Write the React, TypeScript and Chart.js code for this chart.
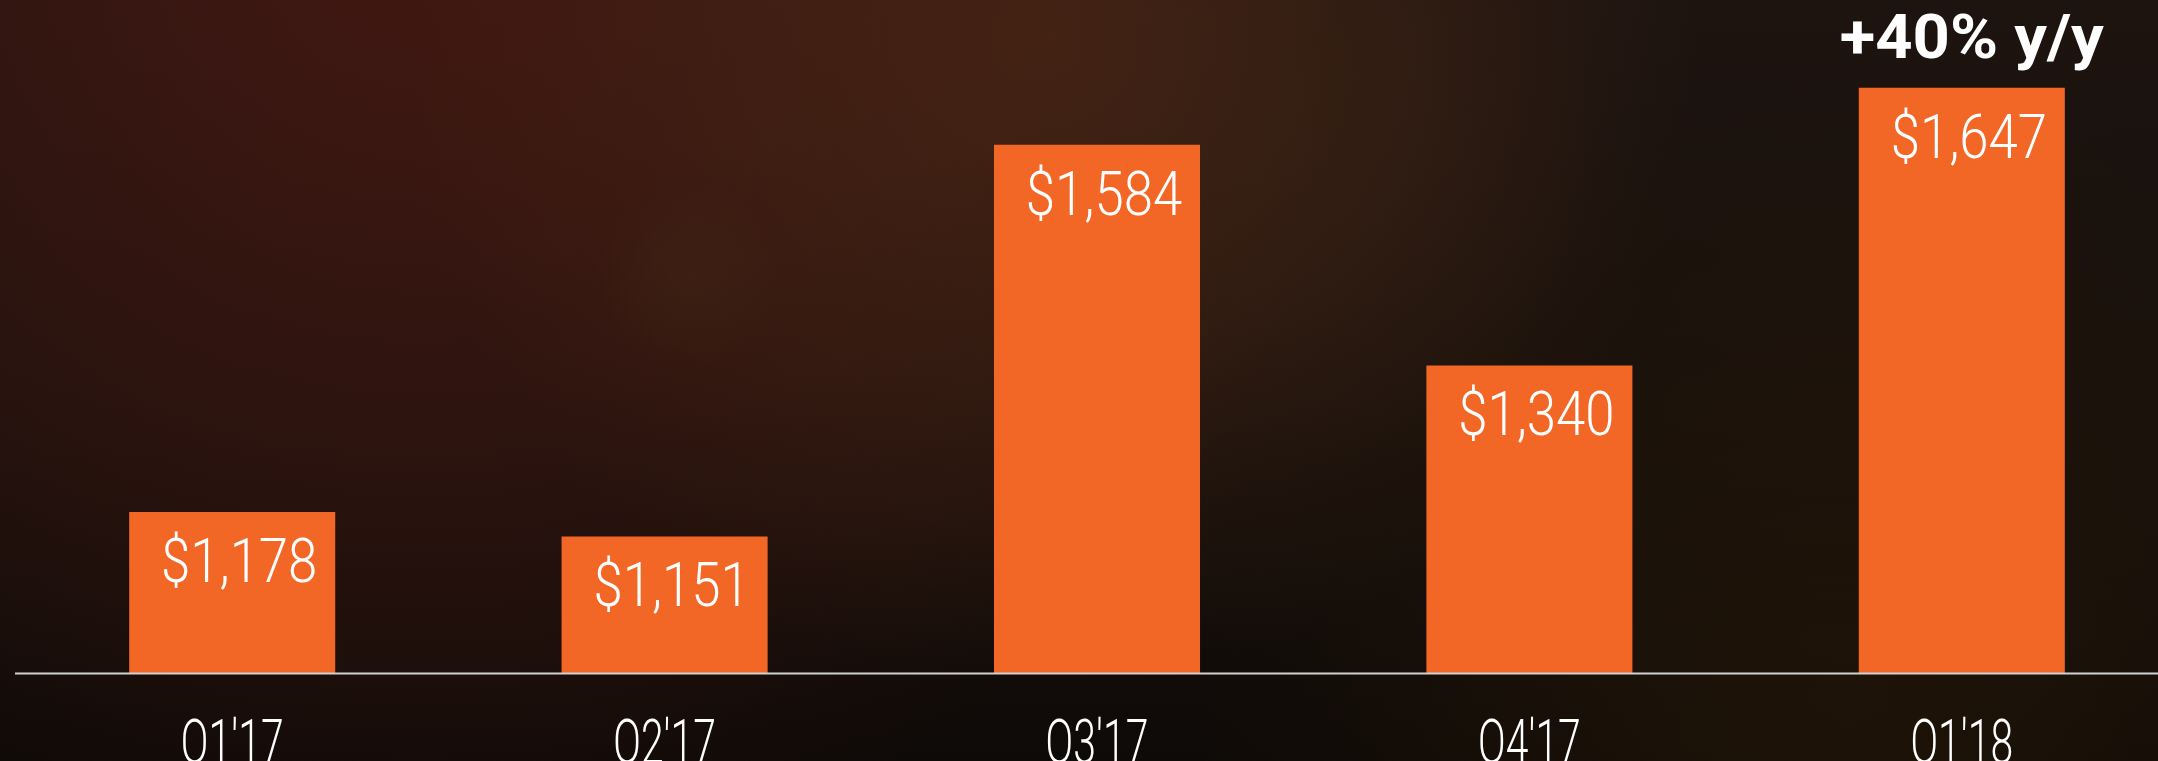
import React, { useEffect, useRef } from "react";
import { Chart, registerables } from "chart.js";

Chart.register(...registerables);

const quarters = ["Q1'17", "Q2'17", "Q3'17", "Q4'17", "Q1'18"];
const revenue = [1178, 1151, 1584, 1340, 1647];
const valueLabels = ["$1,178", "$1,151", "$1,584", "$1,340", "$1,647"];
const growthLabel = "+40% y/y";

const BAR_COLOR = "#F36726";
const TEXT_FONT = "Roboto, 'Open Sans', sans-serif";

function glow(ctx: CanvasRenderingContext2D, x: number, y: number, r: number, rgb: string, a: number) {
  const g = ctx.createRadialGradient(x, y, 0, x, y, r);
  g.addColorStop(0, `rgba(${rgb},${a})`);
  g.addColorStop(0.5, `rgba(${rgb},${a * 0.55})`);
  g.addColorStop(1, `rgba(${rgb},0)`);
  ctx.fillStyle = g;
  ctx.fillRect(x - r, y - r, r * 2, r * 2);
}

const bgPlugin = {
  id: "bg",
  beforeDraw(chart: any) {
    const { ctx, width, height } = chart;
    ctx.save();
    const g = ctx.createLinearGradient(0, 0, 0, height);
    g.addColorStop(0, "#1d1410");
    g.addColorStop(0.55, "#17100c");
    g.addColorStop(1, "#0e0a07");
    ctx.fillStyle = g;
    ctx.fillRect(0, 0, width, height);
    glow(ctx, 420, -60, 950, "72,24,18", 0.85);
    glow(ctx, 1050, 40, 650, "84,44,22", 0.6);
    glow(ctx, 1300, 150, 300, "60,35,22", 0.35);
    glow(ctx, 1850, 720, 650, "42,26,8", 0.55);
    glow(ctx, 690, 275, 95, "70,45,22", 0.3);
    ctx.restore();
  },
};

function drawScaledText(ctx: CanvasRenderingContext2D, text: string, x: number, y: number, sx: number) {
  ctx.save();
  ctx.translate(x, y);
  ctx.scale(sx, 1);
  ctx.fillText(text, 0, 0);
  ctx.restore();
}

const labelPlugin = {
  id: "labels",
  afterDatasetsDraw(chart: any) {
    const { ctx, chartArea } = chart;
    const meta = chart.getDatasetMeta(0);
    const xScale = chart.scales.x;
    ctx.save();
    // baseline axis line
    ctx.strokeStyle = "#d2d2d2";
    ctx.lineWidth = 2;
    ctx.beginPath();
    ctx.moveTo(chartArea.left - 1, chartArea.bottom + 0.5);
    ctx.lineTo(chartArea.right, chartArea.bottom + 0.5);
    ctx.stroke();

    ctx.fillStyle = "#ffffff";
    ctx.textAlign = "center";
    ctx.textBaseline = "alphabetic";
    ctx.font = `300 62px ${TEXT_FONT}`;
    meta.data.forEach((bar: any, i: number) => {
      drawScaledText(ctx, valueLabels[i], bar.x + 7, bar.y + 70, 0.85);
    });
    quarters.forEach((q, i) => {
      const x = xScale.getPixelForValue(i);
      drawScaledText(ctx, q, x, chartArea.bottom + 90, 0.66);
    });
    const last = meta.data[meta.data.length - 1];
    ctx.font = `700 62px ${TEXT_FONT}`;
    drawScaledText(ctx, growthLabel, last.x + 10, last.y - 30, 1.05);
    ctx.restore();
  },
};

export default function App() {
  const ref = useRef<HTMLCanvasElement | null>(null);
  useEffect(() => {
    if (!ref.current) return;
    const chart = new Chart(ref.current, {
      type: "bar",
      data: {
        labels: quarters,
        datasets: [
          {
            data: revenue,
            backgroundColor: BAR_COLOR,
            borderWidth: 0,
            barPercentage: 0.4765,
            categoryPercentage: 1,
          },
        ],
      },
      options: {
        animation: false,
        responsive: false,
        devicePixelRatio: 1,
        layout: { padding: { left: 16, right: 0, top: 0, bottom: 88 } },
        plugins: { legend: { display: false }, tooltip: { enabled: false } },
        scales: {
          x: { display: false },
          y: { display: false, min: 1000, max: 1744 },
        },
      },
      plugins: [bgPlugin, labelPlugin],
    });
    return () => chart.destroy();
  }, []);
  return (
    <div style={{ position: "fixed", left: 0, top: 0, width: 2158, height: 761, overflow: "hidden", background: "#120d0a" }}>
      <canvas ref={ref} width={2178} height={761} style={{ width: 2178, height: 761, display: "block" }} />
    </div>
  );
}
